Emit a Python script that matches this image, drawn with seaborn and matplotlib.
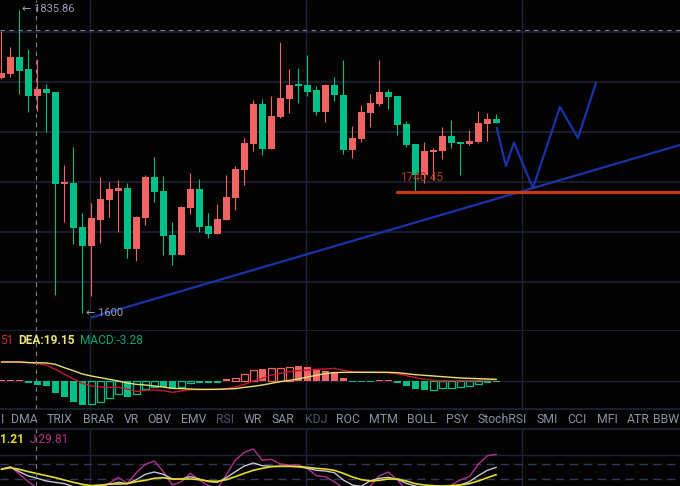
import numpy as np
import pandas as pd
import matplotlib
matplotlib.use('Agg')
import matplotlib.pyplot as plt
import seaborn as sns

# candles
high = [1820.25, 1808.5, 1836, 1806.75, 1799, 1780.5, 1774.5, 1719.75, 1733.25, 1683.5, 1691.5, 1711, 1707, 1708.5,
        1706.25, 1681.5, 1712.25, 1725.5, 1711.5, 1677, 1689, 1713.75, 1709.25, 1683.5, 1690.5, 1712.25, 1719, 1739.75,
        1768.5, 1769.25, 1771.5, 1812, 1791.75, 1792.5, 1802.5, 1779, 1780.5, 1785.75, 1798.5, 1749, 1764.75, 1773,
        1798.5, 1776.75, 1771.5, 1752.75, 1735.5, 1737, 1732.5, 1748.25, 1753.5, 1737, 1746, 1760.25, 1758.5, 1758]
low = [1784.25, 1786, 1772.75, 1759.75, 1760, 1744.5, 1622.5, 1677.25, 1660.5, 1609, 1621.5, 1661.5, 1680.5, 1669.25,
       1650, 1648, 1675, 1692, 1652.25, 1644.5, 1652.25, 1683, 1669.25, 1665, 1668, 1678.5, 1686, 1704.75,
       1730.5, 1727.25, 1731.75, 1755, 1758.5, 1766.25, 1771.5, 1757.25, 1752, 1768, 1728, 1725, 1737.25, 1748.5,
       1764, 1762, 1742.25, 1733.5, 1700.25, 1706.5, 1708.5, 1724.25, 1732.5, 1712.5, 1734.75, 1736.5, 1737.75, 1751.25]
open_ = [1785, 1788, 1800.75, 1791.75, 1771.5, 1776.75, 1774.5, 1705.5, 1706.25, 1673.25, 1659, 1678.5, 1693.5, 1700.25,
         1702.5, 1656.75, 1680, 1710.75, 1700.25, 1667.25, 1652.25, 1687.5, 1701.75, 1674, 1668, 1678.5, 1695, 1716,
         1735.5, 1765.5, 1731.75, 1755.75, 1769.25, 1780.5, 1779.75, 1776, 1759.5, 1779.75, 1772.25, 1731, 1739.25, 1758.75,
         1765.5, 1774.5, 1771.5, 1750.5, 1735.5, 1712.25, 1729.5, 1730.25, 1741.5, 1737, 1735.5, 1737, 1750.5, 1754.25]
close = [1788.75, 1800.75, 1790.25, 1771.5, 1776.75, 1773.75, 1705.5, 1707, 1672.5, 1659, 1680, 1694.25, 1701.75, 1702.5,
         1656.75, 1680.75, 1710.75, 1699.5, 1666.5, 1652.25, 1688.25, 1701.75, 1673.25, 1668, 1679.25, 1695.75, 1716.75, 1736.25,
         1765.5, 1731.75, 1756.5, 1770, 1779.75, 1779, 1774.5, 1759.5, 1779.75, 1772.25, 1731, 1740, 1759.5, 1766.25,
         1774.5, 1770.75, 1749.75, 1734.75, 1712.25, 1730.25, 1731, 1741.5, 1736.25, 1735.5, 1737.75, 1751.25, 1754.25, 1751.25]

# macd panel
hist = [4, 4, 4, -5, -12, -15, -36, -48, -62, -72, -68, -62, -50, -40, -48, -40, -25, -18, -18, -24, -17, -7, -5, -5, -5, 5,
        10, 22, 34, 36, 38, 40, 42, 44, 41, 34, 30, 26, 8, -4, -4, -4, 4, 4, -5, -14, -24, -27, -26, -20, -20, -17, -14, -10, -5, -4]
hollow = [10, 11, 12, 13, 15, 16, 17, 20, 21, 26, 27, 28, 30, 31, 32, 48, 49, 50, 51, 52, 53]
dif = [58, 58, 58, 56, 52, 48, 35, 21, 6, -7, -15, -18, -19, -19, -24, -31, -28, -27, -29, -34, -30, -26, -26, -26, -25, -23,
       -18, -10, 0, 8, 18, 23, 28, 31, 33, 35, 36, 38, 32, 28, 27, 26, 26, 25, 22, 16, 10, 5, 2, 1, 1, 1, 1, 2, 3, 4]
dea = [57, 57, 57, 55, 55, 54, 50, 40, 31, 21, 15, 10, 5, 0, -6, -10, -12, -15, -18, -22, -23, -24, -25, -25, -25, -24,
       -23, -19, -16, -12, -7, -2, 2, 6, 12, 17, 22, 25, 26, 26, 26, 26, 26, 26, 25, 22, 19, 17, 15, 13, 11, 9, 8, 7, 6, 5]

# kdj panel
k_line = [50, 57, 43, 30, 23, 15, 11, 7, -2, -7, -7, -3, 5, 11, 7, 19, 35, 42, 35, 21, 21, 28, 21, 13, 11, 25,
          43, 60, 69, 61, 59, 59, 59, 58, 53, 47, 45, 40, 18, 3, -1, 16, 23, 26, 20, 8, 0, -5, -7, -7, -1, 3, 13, 31, 47, 56]
d_line = [50, 55, 50, 43, 37, 31, 25, 18, 11, 5, 1, 2, 6, 6, 7, 13, 17, 23, 25, 21, 21, 21, 19, 15, 14, 19,
          28, 38, 47, 53, 58, 59, 59, 58, 56, 53, 51, 47, 38, 27, 19, 15, 17, 21, 21, 15, 7, 3, 1, 0, 1, 3, 7, 15, 25, 34]
j_line = [51, 58, 36, 13, -7, -12, -12, -12, -12, -12, -12, -7, 8, 26, 8, 40, 65, 75, 43, 3, 13, 38, 18, 1, -7, 33,
          78, 101, 111, 77, 80, 66, 63, 63, 53, 31, 28, 13, -7, -12, -12, 0, 31, 42, 18, -12, -17, -17, -17, -7, 3, 18, 28, 65, 91, 95]

# drawings on the price panel
trend_x = [10.04, 75.4]
trend_y = [1605.5, 1734.75]
support_x = [43.96, 75.4]
support_y = [1699.25, 1699.25]
path_x = [55.04, 56.07, 56.96, 59.07, 62.07, 64.07, 66.07]
path_y = [1747.75, 1719, 1736.5, 1702.5, 1763.25, 1740, 1781.25]

price_grid = [1819.25, 1781.75, 1744.25, 1706.75, 1669.25, 1631.75]
time_grid = [9.89, 33.89, 57.89]
cross_x = 3.9
cross_y = 1820.75

tabs = ['DMA', 'TRIX', 'BRAR', 'VR', 'OBV', 'EMV', 'RSI', 'WR', 'SAR', 'KDJ', 'ROC', 'MTM', 'BOLL', 'PSY',
        'StochRSI', 'SMI', 'CCI', 'MFI', 'ATR']
tab_pos = [24, 60, 98, 131, 159, 194, 225, 253, 283, 316, 348, 383, 422, 457, 502, 547, 577, 607, 638]
dim_tabs = ['RSI', 'KDJ']

RED = '#f06464'
GREEN = '#00c087'
GRID = '#1e2336'
BG = '#030303'
TXT = '#8b90a8'

sns.set_theme(style='dark', rc={'axes.facecolor': BG, 'figure.facecolor': BG, 'axes.grid': False})
plt.rcParams['font.family'] = ['Roboto', 'DejaVu Sans']

W, H = 680, 486
fig = plt.figure(figsize=(W / 100, H / 100), dpi=100)


def panel(top, bottom, ylim):
    ax = fig.add_axes([0, 1 - bottom / H, 1, (bottom - top) / H])
    ax.set_xlim(-0.148, 75.41)
    ax.set_ylim(*ylim)
    ax.set_xticks([])
    ax.set_yticks([])
    ax.set_xlabel('')
    ax.set_ylabel('')
    for s in ax.spines.values():
        s.set_visible(False)
    for x in time_grid:
        ax.axvline(x, color=GRID, lw=1, zorder=0)
    ax.axvline(cross_x, color='#7d8290', lw=0.8, ls=(0, (4, 4)), zorder=5)
    return ax


def ftext(x, y, s, **kw):
    fig.text(x / W, 1 - y / H, s, va='center', **kw)


def draw_line(ax, xs, ys, color, lw, z=4):
    sns.lineplot(x=xs, y=ys, ax=ax, color=color, lw=lw, sort=False, estimator=None, zorder=z)
    ax.set_xlabel('')
    ax.set_ylabel('')


df = pd.DataFrame({'i': np.arange(len(high)), 'high': high, 'low': low, 'open': open_, 'close': close})
df['color'] = np.where(df['close'] > df['open'], RED, GREEN)

# price panel
ax = panel(0, 331, (1595.25, 1843.5))
for y in price_grid:
    ax.axhline(y, color=GRID, lw=1.2, zorder=0)
ax.axhline(cross_y, color='#7d8290', lw=0.8, ls=(0, (4, 4)), zorder=5)
ax.spines['bottom'].set_visible(True)
ax.spines['bottom'].set_color(GRID)
ax.vlines(df['i'], df['low'], df['high'], colors=df['color'], lw=0.8, zorder=2)
bottoms = df[['open', 'close']].min(axis=1)
heights = (df['open'] - df['close']).abs()
ax.bar(df['i'], heights, bottom=bottoms, width=0.78, color=df['color'], lw=0, zorder=3)
draw_line(ax, trend_x, trend_y, '#1a33a8', 1.6)
draw_line(ax, support_x, support_y, '#c63a12', 2.3)
draw_line(ax, path_x, path_y, '#1a33a8', 1.6)

ftext(22, 9, '← 1835.86', color='#9a9fae', fontsize=8, zorder=6)
ftext(86, 313, '← 1600', color='#9a9fae', fontsize=8, zorder=6)
ftext(400, 177, '1740.45', color='#b5351a', fontsize=8.6, zorder=6)

# macd panel
ax2 = panel(331, 409, (-84, 150))
ax2.axhline(0, color=GRID, lw=1, zorder=0)
ax2.spines['bottom'].set_visible(True)
ax2.spines['bottom'].set_color(GRID)
for i, v in enumerate(hist):
    c = RED if v > 0 else GREEN
    if i in hollow:
        ax2.bar(i, v, width=0.72, facecolor='none', edgecolor=c, lw=0.9, zorder=2)
    else:
        ax2.bar(i, v, width=0.78, color=c, lw=0, zorder=2)
idx = np.arange(len(hist))
draw_line(ax2, idx, dif, '#c8162c', 1.0)
draw_line(ax2, idx, dea, '#e8e070', 1.0)
ftext(0, 340, '51', color='#c8302c', fontsize=8.6)
ftext(18, 340, 'DEA:19.15', color='#eee27a', fontsize=8.6, fontweight='bold')
ftext(80, 340, 'MACD:-3.28', color='#00a878', fontsize=8.6)

# tab strip, the first and last tabs sit against the edges
for name, x in zip(tabs, tab_pos):
    ftext(x, 419.5, name, color='#50546a' if name in dim_tabs else TXT, fontsize=8.8, ha='center')
ftext(0.5, 419.5, 'I', color=TXT, fontsize=8.8, ha='left')
ftext(679.5, 419.5, 'BBW', color=TXT, fontsize=8.8, ha='right')

# kdj panel
ax3 = panel(429, 486, (0, 171))
ax3.spines['top'].set_visible(True)
ax3.spines['top'].set_color(GRID)
ax3.axhline(93, color=GRID, lw=1, zorder=0)
ax3.axhline(65, color='#33375c', lw=1, ls=(0, (6, 4)), zorder=0)
ax3.axhline(20, color='#33375c', lw=1, ls=(0, (6, 4)), zorder=0)
draw_line(ax3, idx, j_line, '#b5308e', 1.0, z=3)
draw_line(ax3, idx, k_line, '#c4c6d2', 1.0, z=3)
draw_line(ax3, idx, d_line, '#e4dc28', 1.2)
ftext(0, 439, '1.21', color='#e4dc28', fontsize=8.6, fontweight='bold')
ftext(30, 439, 'J:29.81', color='#b5308e', fontsize=8.6)

fig.savefig('out.png', dpi=100, facecolor=BG)
